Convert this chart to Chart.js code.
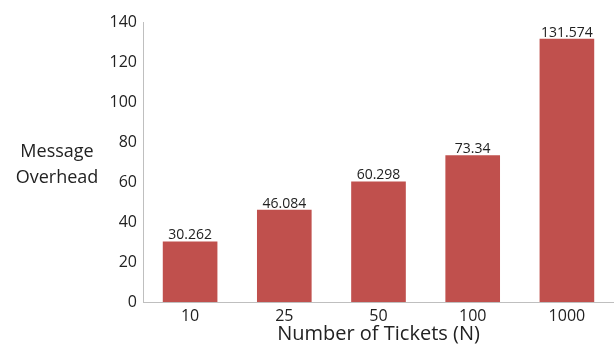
<!DOCTYPE html>
<html lang="en">
<head>
  <meta charset="UTF-8" />
  <title>Message Overhead vs Number of Tickets</title>
  <script src="https://cdn.jsdelivr.net/npm/chart.js"></script>
  <style>
    body { margin: 0; background: #fff; }
    canvas { display: block; }
  </style>
</head>
<body>

<canvas id="myChart" width="614" height="346"></canvas>

<script>
  const ctx = document.getElementById('myChart').getContext('2d');

  // Number of tickets (N) and measured message overhead
  const ticketCounts = ['10', '25', '50', '100', '1000'];
  const overheadValues = [30.262, 46.084, 60.298, 73.34, 131.574];
  const yTicks = [0, 20, 40, 60, 80, 100, 120, 140];

  const fontFamily = '"Open Sans", "Noto Sans", sans-serif';
  const textColor = '#222222';

  // Draws the value above each bar and the horizontal y-axis title
  const labelsPlugin = {
    id: 'labels',
    afterDatasetsDraw(chart) {
      const c = chart.ctx;
      const meta = chart.getDatasetMeta(0);
      c.save();
      c.fillStyle = textColor;
      c.font = '14px ' + fontFamily;
      c.textAlign = 'center';
      c.textBaseline = 'bottom';
      meta.data.forEach((bar, i) => {
        c.fillText(String(overheadValues[i]), bar.x, bar.y + 1);
      });

      c.font = '18px ' + fontFamily;
      c.textBaseline = 'middle';
      c.fillText('Message', 57, 152);
      c.fillText('Overhead', 57, 178);
      c.restore();
    }
  };

  const myChart = new Chart(ctx, {
    type: 'bar',
    data: {
      labels: ticketCounts,
      datasets: [{
        data: overheadValues,
        backgroundColor: '#C0504D',
        barPercentage: 0.58,
        categoryPercentage: 1.0
      }]
    },
    options: {
      responsive: false,
      animation: false,
      layout: { padding: { left: 100, top: 22, right: -4, bottom: 0 } },
      plugins: {
        legend: { display: false },
        tooltip: { enabled: false }
      },
      scales: {
        x: {
          afterFit: scale => { scale.height = 44; },
          grid: { display: false, drawTicks: false },
          border: { color: '#BFBFBF', width: 1 },
          ticks: { color: textColor, font: { family: fontFamily, size: 16 }, padding: 5 },
          title: {
            display: true,
            text: 'Number of Tickets (N)',
            color: textColor,
            font: { family: fontFamily, size: 20 },
            padding: { top: 0, bottom: 0 }
          }
        },
        y: {
          min: 0,
          max: 140,
          afterBuildTicks: scale => { scale.ticks = yTicks.map(v => ({ value: v })); },
          afterFit: scale => { scale.width = 43; },
          grid: { display: false, drawTicks: false },
          border: { color: '#BFBFBF', width: 1 },
          ticks: { color: textColor, font: { family: fontFamily, size: 16 }, padding: 6 }
        }
      }
    },
    plugins: [labelsPlugin]
  });
</script>

</body>
</html>
